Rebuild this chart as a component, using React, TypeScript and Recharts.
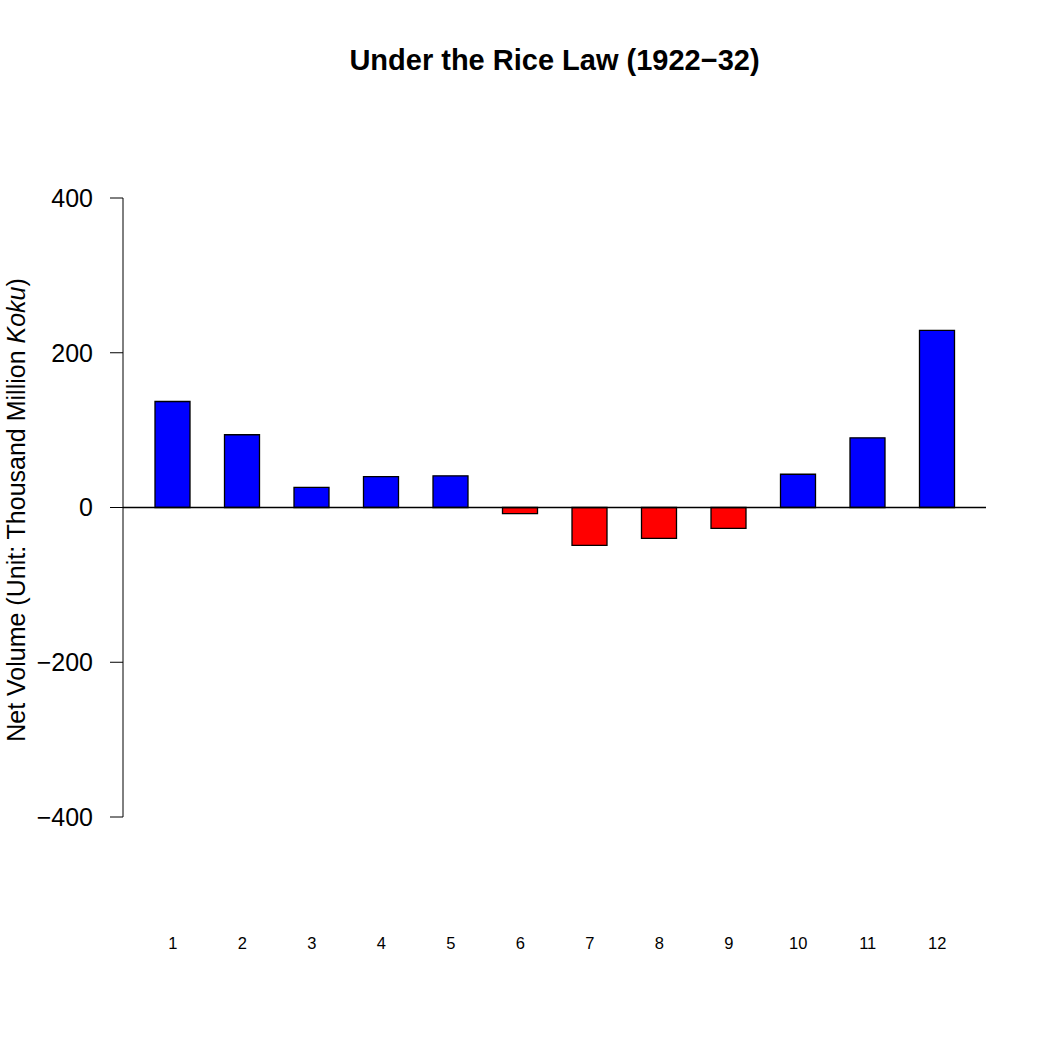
import { BarChart, Bar, XAxis, YAxis, Cell, ReferenceLine } from 'recharts'

const months = ['1', '2', '3', '4', '5', '6', '7', '8', '9', '10', '11', '12']
const netVolume = [137, 94, 26, 40, 41, -8, -49, -40, -27, 43, 90, 229]
const yTicks = [-400, -200, 0, 200, 400]

const data = months.map((m, i) => ({ month: m, value: netVolume[i] }))

const fmt = (v: number) => (v < 0 ? `\u2212${Math.abs(v)}` : `${v}`)

function MonthTick({ x, y, payload }: any) {
  return (
    <text x={x} y={y} dy={132} textAnchor="middle" fontSize={16.5} fill="#000">
      {payload.value}
    </text>
  )
}

export default function App() {
  return (
    <div
      style={{
        position: 'absolute',
        left: 0,
        top: 0,
        width: 1048,
        height: 1048,
        background: '#fff',
        fontFamily: '"Liberation Sans", Arial, sans-serif',
      }}
    >
      <div
        style={{
          position: 'absolute',
          left: 123,
          top: 46,
          width: 863,
          textAlign: 'center',
          fontSize: 29,
          fontWeight: 'bold',
          lineHeight: 1,
          color: '#000',
        }}
      >
        Under the Rice Law (1922{'\u2212'}32)
      </div>
      <BarChart
        width={1048}
        height={1048}
        data={data}
        margin={{ top: 198, right: 62, bottom: 201, left: 23 }}
      >
        <XAxis
          dataKey="month"
          axisLine={false}
          tickLine={false}
          tickSize={0}
          tickMargin={0}
          padding={{ left: 15, right: 14 }}
          tick={<MonthTick />}
          interval={0}
        />
        <YAxis
          width={100}
          domain={[-400, 400]}
          ticks={yTicks}
          tickFormatter={fmt}
          tickSize={13}
          tickMargin={17}
          stroke="#000"
          tick={{ fill: '#000', fontSize: 25 }}
          label={{
            content: () => (
              <text transform="translate(25, 510) rotate(-90)" textAnchor="middle" fontSize={25} fill="#000">
                Net Volume (Unit: Thousand Million <tspan fontStyle="italic">Koku</tspan>)
              </text>
            ),
          }}
        />
        <Bar dataKey="value" barSize={35} stroke="#000" strokeWidth={1.3} isAnimationActive={false}>
          {data.map((d, i) => (
            <Cell key={i} fill={d.value >= 0 ? '#0000ff' : '#ff0000'} />
          ))}
        </Bar>
        <ReferenceLine y={0} stroke="#000" strokeWidth={1.5} />
      </BarChart>
    </div>
  )
}
